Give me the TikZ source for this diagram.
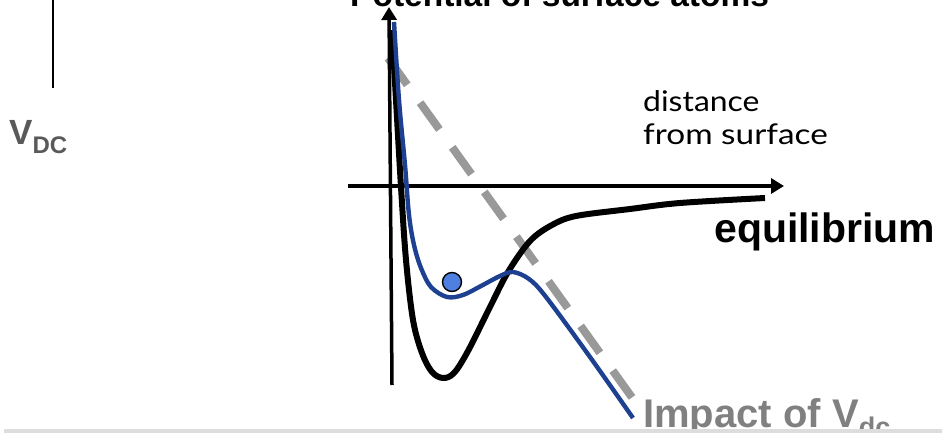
\documentclass[tikz,border=0pt]{standalone}
\usepackage{fontspec}
\setmainfont{Liberation Sans}
\newfontfamily\gillfont{Lato}
\usetikzlibrary{arrows.meta}
\definecolor{curveblue}{RGB}{30,64,145}
\definecolor{ballblue}{RGB}{79,128,225}
\definecolor{dashgray}{RGB}{153,153,153}
\definecolor{vdcgray}{RGB}{89,89,89}
\definecolor{impactgray}{RGB}{128,128,128}
\definecolor{bandgray}{RGB}{221,221,221}
\tikzset{
  axisline/.style={line width=3.5pt,-{Triangle[length=13pt,width=15pt]}},
  boldlbl/.style={inner sep=0pt,anchor=base west,font=\bfseries},
  gilllbl/.style={inner sep=0pt,anchor=base west,font=\gillfont\fontsize{28.5}{32}\selectfont},
}
\begin{document}
\begin{tikzpicture}[x=1pt,y=-1pt]
\useasboundingbox (0,0) rectangle (942,433);
% top-left line
\draw[line width=1.8pt] (53,0) coordinate (tl1) -- (53,88) coordinate (tl2);
% dashed gray line
\draw[dashgray,line width=8pt,dash pattern=on 33pt off 22pt] (388,58) coordinate (ds) -- (636,403) coordinate (de);
% axes
\coordinate (vaxB) at (392,385);
\coordinate (vaxT) at (389,7);
\coordinate (haxL) at (348,186);
\coordinate (haxR) at (784,186);
\draw[axisline] (vaxB) -- (vaxT);
\draw[axisline] (haxL) -- (haxR);
% black potential
\draw[line width=6pt,line join=round] plot[smooth,tension=0.55] coordinates {
 (392,30) (396,100) (401,187) (406,260) (413,320) (422,353) (432,372) (443,378) (454,373)
 (468,351) (490,307) (508,272) (530,241) (552,225) (576,216) (630,209) (680,203) (765,198)};
% blue potential
\draw[curveblue,line width=4.4pt,line join=round] plot[smooth,tension=0.55] coordinates {
 (394,22) (399,100) (405,165) (409,215) (414,245) (421,268) (431,287) (447,297) (463,295)
 (481,286) (500,276) (513,272) (529,279) (546,297) (590,357) (633,418)};
% ball
\node[circle,draw=black,line width=1.4pt,fill=ballblue,minimum size=19pt,inner sep=0pt] (ball) at (452,282) {};
% texts
\node[boldlbl,font=\bfseries\fontsize{33.5}{40}\selectfont] (title) at (350,7) {Potential of surface atoms};
\node[gilllbl] (dist) at (643,112) {\scalebox{1.12}[1]{distance}};
\node[gilllbl] (from) at (643,145) {\scalebox{1.17}[1]{from surface}};
\node[boldlbl,font=\bfseries\fontsize{41}{48}\selectfont] (equil) at (714,242) {equilibrium};
\node[boldlbl,text=vdcgray,font=\bfseries\fontsize{35}{40}\selectfont] (vdc) at (9,145) {V\raisebox{-9pt}{\fontsize{24}{28}\selectfont DC}};
\node[boldlbl,text=impactgray,font=\bfseries\fontsize{40}{48}\selectfont] (impact) at (643,427) {Impact of V\raisebox{-9pt}{\fontsize{27}{30}\selectfont dc}};
% bottom band
\fill[bandgray] (4,429) rectangle (942,433);
\end{tikzpicture}
\end{document}
